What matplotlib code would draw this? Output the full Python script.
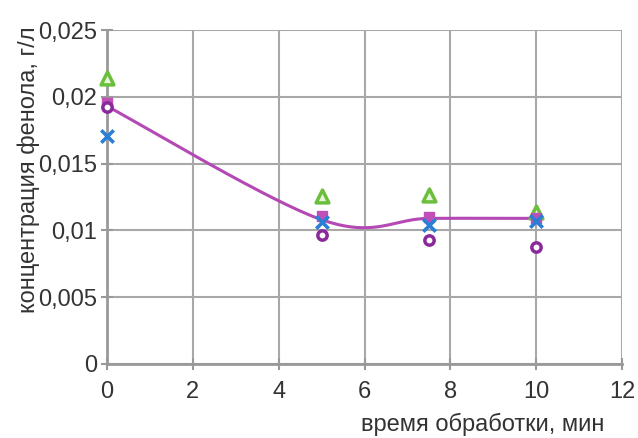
import numpy as np
import matplotlib
matplotlib.use("Agg")
import matplotlib.pyplot as plt

# данные
t = [0, 5, 7.5, 10]
tri = [0.0214, 0.01257, 0.01265, 0.01138]
sq = [0.0195, 0.0111, 0.0110, 0.0109]
cross = [0.0171, 0.01063, 0.0104, 0.0107]
circ = [0.0192, 0.00966, 0.00928, 0.00876]
line_y = [0.0193, 0.0108, 0.0109, 0.0109]

x_ticks = [0, 2, 4, 6, 8, 10, 12]
y_ticks = [0, 0.005, 0.01, 0.015, 0.02, 0.025]
y_labels = ["0", "0,005", "0,01", "0,015", "0,02", "0,025"]


def excel_smooth(xs, ys, n=60):
    # сглаженная линия как в Excel (кривые Безье, натяжение 1/6)
    P = np.column_stack([xs, ys])
    out = []
    for i in range(len(P) - 1):
        p0 = P[i - 1] if i > 0 else P[i]
        p1, p2 = P[i], P[i + 1]
        p3 = P[i + 2] if i + 2 < len(P) else P[i + 1]
        c1 = p1 + (p2 - p0) / 6
        c2 = p2 - (p3 - p1) / 6
        s = np.linspace(0, 1, n)[:, None]
        b = (1 - s) ** 3 * p1 + 3 * (1 - s) ** 2 * s * c1 + 3 * (1 - s) * s ** 2 * c2 + s ** 3 * p2
        out.append(b)
    out = np.vstack(out)
    return out[:, 0], out[:, 1]


plt.rcParams['font.family'] = ['Liberation Sans', 'DejaVu Sans']

fig = plt.figure(figsize=(6.38, 4.38), dpi=100)
ax = fig.add_axes([0.1677, 0.169, 0.8073, 0.7625])

grid_c = '#a8a8a8'
ax.set_xlim(0, 12)
ax.set_ylim(0, 0.025)
ax.set_xticks(x_ticks)
ax.set_yticks(y_ticks)
ax.set_yticklabels(y_labels)
ax.grid(True, color=grid_c, linewidth=1.5)
ax.set_axisbelow(True)
for side in ['top', 'right']:
    ax.spines[side].set_visible(False)
for side in ['left', 'bottom']:
    ax.spines[side].set_color('#999999')
    ax.spines[side].set_linewidth(2)
ax.tick_params(direction='inout', length=8, width=1.5, color='#999999',
               labelsize=17, labelcolor='#333333')
ax.tick_params(axis='x', pad=8)
ax.tick_params(axis='y', pad=3)

sx, sy = excel_smooth(t, line_y)
ax.plot(sx, sy, color='#b448b4', linewidth=2.2, zorder=3)

ax.scatter(t, tri, marker='^', s=85, facecolor='#e8f5d8', edgecolor='#6cbf3c', linewidth=2.5, zorder=4, clip_on=False)
ax.scatter(t, sq, marker='s', s=55, color='#c050b8', zorder=4, clip_on=False)
ax.scatter(t, cross, marker='x', s=80, color='#2a7fd4', linewidth=2.6, zorder=5, clip_on=False)
ax.scatter(t, circ, marker='o', s=45, facecolor='white', edgecolor='#8a2a9a', linewidth=2.5, zorder=5, clip_on=False)

fig.text(0.045, 0.612, 'концентрация фенола, г/л', rotation=90, ha='center', va='center',
         fontsize=17, color='#333333')
fig.text(0.948, 0.03, 'время обработки, мин', ha='right', va='center',
         fontsize=17, color='#333333')

fig.savefig('out.png', dpi=100)
